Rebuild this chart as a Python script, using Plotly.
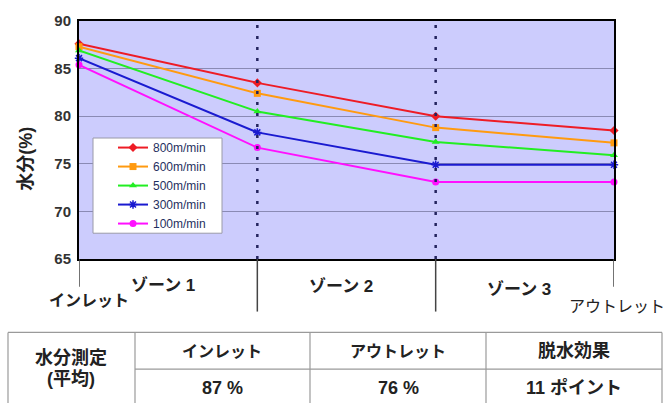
import plotly.graph_objects as go

# Measurement stations along the line (inlet, zone boundaries, outlet)
stations = [0, 1, 2, 3]

series_names = ["800m/min", "600m/min", "500m/min", "300m/min", "100m/min"]
moisture_800 = [87.6, 83.5, 80.0, 78.5]
moisture_600 = [87.3, 82.4, 78.8, 77.2]
moisture_500 = [86.9, 80.5, 77.3, 75.9]
moisture_300 = [86.1, 78.3, 74.9, 74.9]
moisture_100 = [85.4, 76.7, 73.1, 73.1]

zone_labels = ["ゾーン 1", "ゾーン 2", "ゾーン 3"]
end_labels = ["インレット", "アウトレット"]
y_ticks = [65, 70, 75, 80, 85, 90]

table_title = ["水分測定", "(平均)"]
table_headers = ["インレット", "アウトレット", "脱水効果"]
table_values = ["87 %", "76 %", "11 ポイント"]

colors = ["#ee1c25", "#ff9a10", "#22ee22", "#1a1ad0", "#ff10ff"]
symbols = ["diamond", "square", "triangle-up", "asterisk-open", "circle"]
marker_sizes = [7, 7, 7, 7, 7]

W, H = 666, 403
L, R, T, B = 79, 614, 19, 259  # plot area in pixels

def px(xp):
    return (xp - L) / (R - L)

def py(yp):
    return (B - yp) / (B - T)

LAT = "Liberation Sans, Noto Sans CJK JP, sans-serif"
TXT = "#222222"

def label(x, y, text, size, bold=True, xref="paper", angle=0):
    return dict(xref=xref, yref="paper", x=x, y=y, text=text, showarrow=False,
                xanchor="center", yanchor="middle", textangle=angle,
                font=dict(family=LAT, size=size, color=TXT, weight="bold" if bold else "normal"))

fig = go.Figure()
all_series = [moisture_800, moisture_600, moisture_500, moisture_300, moisture_100]
for name, vals, c, s, ms in zip(series_names, all_series, colors, symbols, marker_sizes):
    fig.add_trace(go.Scatter(
        x=stations, y=vals, name=name, mode="lines+markers",
        line=dict(color=c, width=2),
        marker=dict(symbol=s, size=ms, color=c, line=dict(color=c, width=1.5 if "asterisk" in s else 0)),
        cliponaxis=False,
    ))

shapes = []
# dotted zone boundaries inside the plot
for xb in stations[1:-1]:
    shapes.append(dict(type="line", xref="x", yref="paper", x0=xb, x1=xb, y0=0, y1=1,
                       line=dict(color="#23235e", width=2.5, dash="3px,8px"), layer="above"))
# tick marks below the axis separating zones
for i, xb in enumerate(stations):
    end = py(287) if i in (0, len(stations) - 1) else py(312)
    shapes.append(dict(type="line", xref="x", yref="paper", x0=xb, x1=xb, y0=0, y1=end,
                       line=dict(color="#444444", width=1.5)))
# legend box
shapes.append(dict(type="rect", xref="paper", yref="paper", x0=px(93), x1=px(222), y0=py(233), y1=py(137),
                   fillcolor="white", line=dict(color="#9a9aa8", width=1), layer="above"))
# summary table grid
tc = "#9a9a9a"
shapes.append(dict(type="line", xref="paper", yref="paper", x0=px(8), x1=px(662), y0=py(333), y1=py(333), line=dict(color=tc, width=1.2)))
shapes.append(dict(type="line", xref="paper", yref="paper", x0=px(135), x1=px(662), y0=py(370), y1=py(370), line=dict(color=tc, width=1.2)))
for xv in [8, 135, 310, 486, 662]:
    shapes.append(dict(type="line", xref="paper", yref="paper", x0=px(xv), x1=px(xv), y0=py(333), y1=py(410), line=dict(color=tc, width=1.2)))

annotations = []
# y-axis title
annotations.append(label(px(26), py(158), "水分(%)", 18, angle=-90))
# zone labels
zone_y = [286, 287, 290]
for i, z in enumerate(zone_labels):
    annotations.append(label((stations[i] + stations[i + 1]) / 2 - 0.03, py(zone_y[i]), z, 17, xref="x"))
annotations.append(label(px(89), py(301), end_labels[0], 16))
annotations.append(label(px(617), py(307), end_labels[1], 16, bold=False))
# table text
annotations.append(label(px(71), py(359), table_title[0], 18))
annotations.append(label(px(71), py(380), table_title[1], 18))
col_centers = [222, 398, 574]
head_sizes = [16, 16, 18]
for cx, h, v, hs in zip(col_centers, table_headers, table_values, head_sizes):
    annotations.append(label(px(cx), py(352), h, hs))
    annotations.append(label(px(cx), py(389), v, 18))

fig.update_layout(
    width=W, height=H,
    margin=dict(l=L, r=W - R, t=T, b=H - B, pad=0),
    paper_bgcolor="white",
    plot_bgcolor="#ccccfd",
    showlegend=True,
    legend=dict(x=px(113), y=py(132), xanchor="left", yanchor="top",
                bgcolor="rgba(0,0,0,0)", borderwidth=0,
                font=dict(family="Liberation Sans, sans-serif", size=12, color="#1f2f60"),
                tracegroupgap=0, itemwidth=30),
    shapes=shapes,
    annotations=annotations,
    xaxis=dict(range=[0, 3], showgrid=False, zeroline=False, showticklabels=False, ticks="",
               showline=True, linecolor="black", linewidth=2, mirror=True, fixedrange=True),
    yaxis=dict(range=[65, 90], tickvals=y_ticks, showgrid=True, gridcolor="#8a8ab4", gridwidth=1,
               zeroline=False, ticks="", ticklabelstandoff=3,
               tickfont=dict(family="Liberation Sans, sans-serif", size=15, color="#333333", weight="bold"),
               showline=True, linecolor="black", linewidth=2, mirror=True, fixedrange=True),
)

fig.write_html("out.html")
